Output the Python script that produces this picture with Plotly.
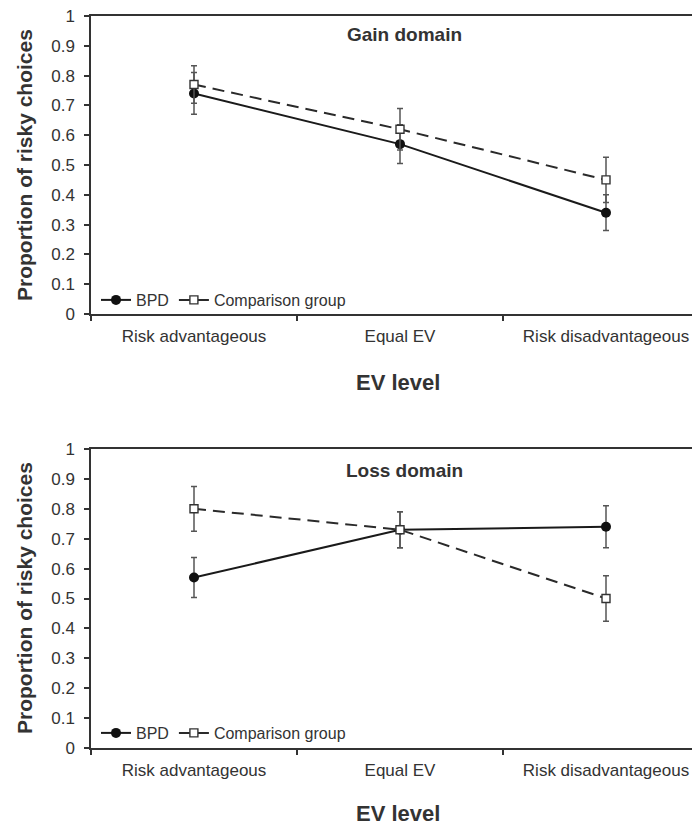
import plotly.graph_objects as go

categories = ["Risk advantageous", "Equal EV", "Risk disadvantageous"]

gain_bpd = [0.74, 0.57, 0.34]
gain_bpd_err = [0.07, 0.065, 0.06]
gain_cmp = [0.77, 0.62, 0.45]
gain_cmp_err = [0.063, 0.07, 0.076]

loss_bpd = [0.57, 0.73, 0.74]
loss_bpd_err = [0.067, 0.06, 0.07]
loss_cmp = [0.80, 0.73, 0.50]
loss_cmp_err = [0.075, 0.06, 0.076]

# page body has an 8px margin; figure is sized to fill the rest of the window
OFF = 8
W, H = 700 - OFF, 827 - OFF
L = 91 - OFF
PW = W - L

def px2py(p):
    return 1 - (p - OFF) / H

def px2px(p):
    return (p - OFF - L) / PW

TXT = "#333333"
FONT = "Liberation Sans, Arial, sans-serif"

fig = go.Figure()

def add_panel(bpd, bpd_err, cmp, cmp_err, xa, ya, legend):
    fig.add_trace(go.Scatter(
        x=categories, y=bpd, name="BPD", xaxis=xa, yaxis=ya, legend=legend,
        mode="lines+markers",
        line=dict(color="#1a1a1a", width=2),
        marker=dict(symbol="circle", size=10, color="#111111"),
        error_y=dict(type="data", array=bpd_err, visible=True, color="#555555", thickness=1.5, width=3),
    ))
    fig.add_trace(go.Scatter(
        x=categories, y=cmp, name="Comparison group", xaxis=xa, yaxis=ya, legend=legend,
        mode="lines+markers",
        line=dict(color="#2a2a2a", width=2, dash="12px,7px"),
        marker=dict(symbol="square", size=8, color="white", line=dict(color="#333333", width=1.4)),
        error_y=dict(type="data", array=cmp_err, visible=True, color="#555555", thickness=1.5, width=3),
    ))

add_panel(gain_bpd, gain_bpd_err, gain_cmp, gain_cmp_err, "x", "y", "legend")
add_panel(loss_bpd, loss_bpd_err, loss_cmp, loss_cmp_err, "x2", "y2", "legend2")

xcommon = dict(
    type="category", range=[-0.5, -0.5 + PW / 206.0], tickson="boundaries",
    showline=True, linecolor="#333333", linewidth=2, mirror=True,
    ticks="outside", ticklen=5, tickcolor="#333333", tickwidth=1.5,
    showgrid=False, zeroline=False, ticklabelstandoff=6, automargin=False,
    ticklabeloverflow="allow",
    tickfont=dict(family=FONT, size=17, color=TXT),
)
ycommon = dict(
    range=[0, 1], dtick=0.1, tick0=0,
    showline=True, linecolor="#333333", linewidth=1.5, mirror=False,
    ticks="outside", ticklen=5, tickcolor="#333333", tickwidth=1.5,
    showgrid=False, zeroline=False, ticklabelstandoff=6, automargin=False,
    ticklabeloverflow="allow",
    tickfont=dict(family=FONT, size=17, color=TXT),
)

fig.update_layout(
    width=W, height=H,
    margin=dict(l=L, r=0, t=0, b=0, autoexpand=False),
    paper_bgcolor="white", plot_bgcolor="white",
    xaxis=dict(domain=[0, 1], anchor="y", **xcommon),
    yaxis=dict(domain=[px2py(314), px2py(16)], anchor="x", **ycommon),
    xaxis2=dict(domain=[0, 1], anchor="y2", **xcommon),
    yaxis2=dict(domain=[px2py(748), px2py(449)], anchor="x2", **ycommon),
    legend=dict(orientation="h", x=px2px(96), y=px2py(300), xanchor="left", yanchor="middle",
                font=dict(family=FONT, size=16, color=TXT), itemwidth=30,
                bgcolor="rgba(0,0,0,0)", tracegroupgap=0, itemclick=False),
    legend2=dict(orientation="h", x=px2px(96), y=px2py(733), xanchor="left", yanchor="middle",
                 font=dict(family=FONT, size=16, color=TXT), itemwidth=30,
                 bgcolor="rgba(0,0,0,0)", tracegroupgap=0, itemclick=False),
    showlegend=True,
)

ann = []
for ytitle_center, xtitle_y, ptitle, ptitle_y in [(165, 383, "Gain domain", 34), (598, 813, "Loss domain", 470)]:
    ann.append(dict(text="<b>Proportion of risky choices</b>", x=px2px(24), y=px2py(ytitle_center),
                    xref="paper", yref="paper", textangle=-90, showarrow=False,
                    xanchor="center", yanchor="middle",
                    font=dict(family=FONT, size=21, color=TXT)))
    ann.append(dict(text="<b>EV level</b>", x=px2px(398), y=px2py(xtitle_y),
                    xref="paper", yref="paper", showarrow=False,
                    xanchor="center", yanchor="middle",
                    font=dict(family=FONT, size=22, color=TXT)))
    ann.append(dict(text="<b>" + ptitle + "</b>", x=px2px(404), y=px2py(ptitle_y),
                    xref="paper", yref="paper", showarrow=False,
                    xanchor="center", yanchor="middle",
                    font=dict(family=FONT, size=19, color=TXT)))
fig.update_layout(annotations=ann)

fig.write_html("out.html")
